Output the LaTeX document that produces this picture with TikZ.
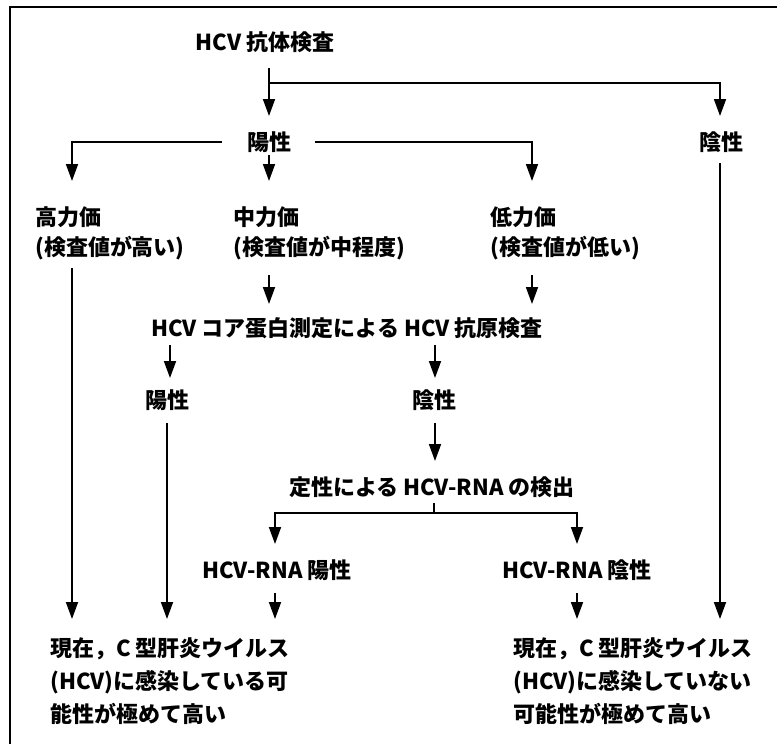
\documentclass[tikz,border=0pt]{standalone}
\usepackage{fontspec}
\newfontfamily\jp{Noto Sans CJK JP}
\usetikzlibrary{arrows.meta,calc}
\begin{document}
\begin{tikzpicture}[x=1pt,y=-1pt,
  txt/.style={font=\jp\bfseries\fontsize{22}{30}\selectfont, inner sep=0pt},
  txtm/.style={txt, align=left, anchor=west},
  txtf/.style={font=\jp\bfseries\fontsize{22}{33}\selectfont, inner sep=0pt, align=left, anchor=west},
  ln/.style={line width=1.8pt},
  arr/.style={ln, -{Triangle[width=12pt,length=17pt]}}]
\useasboundingbox (0,0) rectangle (777,744);
\draw[line width=2.5pt] (10,800) -- (10,7) -- (800,7);
% nodes
\node[txt] (t) at (265,42) {HCV 抗体検査};
\node[txt] (p1) at (269,142) {陽性};
\node[txt] (n1) at (721,142) {陰性};
\node[txtm] (high) at (35,233) {高力価\\(検査値が高い)};
\node[txtm] (mid) at (233,233) {中力価\\(検査値が中程度)};
\node[txtm] (low) at (490,233) {低力価\\(検査値が低い)};
\node[txt] (core) at (347,328) {HCV コア蛋白測定による HCV 抗原検査};
\node[txt] (cp) at (167,400) {陽性};
\node[txt] (cn) at (434,400) {陰性};
\node[txt] (qual) at (432,487) {定性による HCV-RNA の検出};
\node[txt] (rp) at (277,570) {HCV-RNA 陽性};
\node[txt] (rn) at (577,570) {HCV-RNA 陰性};
\node[txtf] (fin1) at (50,681) {現在，C 型肝炎ウイルス\\(HCV)に感染している可\\能性が極めて高い};
\node[txtf] (fin2) at (513,681) {現在，C 型肝炎ウイルス\\(HCV)に感染していない\\可能性が極めて高い};
% connectors
\draw[arr] ($(t)+(4,26)$) -- ($(p1)+(0,-26)$);
\draw[arr] ($(t)+(4,41)$) -| ($(n1)+(-1,-26)$);
\draw[arr] ($(p1)+(-47,0)$) -| ($(high.west)+(37,-52)$);
\draw[arr] ($(p1)+(0,13)$) -- ($(mid.west)+(36,-52)$);
\draw[arr] ($(p1)+(46,0)$) -| ($(low.west)+(42,-52)$);
\draw[arr] ($(n1)+(-1,21)$) -- ($(fin2.west)+(207,-62)$);
\draw[arr] ($(high.west)+(37,35)$) -- ($(fin1.west)+(22,-62)$);
\draw[arr] ($(mid.west)+(36,42)$) -- ($(core)+(-78,-24)$);
\draw[arr] ($(low.west)+(42,42)$) -- ($(core)+(185,-24)$);
\draw[arr] ($(core)+(-177,17)$) -- ($(cp)+(3,-22)$);
\draw[arr] ($(core)+(88,17)$) -- ($(cn)+(1,-22)$);
\draw[arr] ($(cp)+(0,23)$) -- ($(fin1.west)+(117,-62)$);
\draw[arr] ($(cn)+(1,23)$) -- ($(qual)+(3,-26)$);
\draw[ln] ($(qual)+(2,16)$) -- ($(qual)+(2,26)$);
\draw[arr] ($(qual)+(2,26)$) -| ($(rp)+(-2,-26)$);
\draw[arr] ($(qual)+(2,26)$) -| ($(rn)+(0,-26)$);
\draw[arr] ($(rp)+(-2,23)$) -- ($(fin1.west)+(225,-62)$);
\draw[arr] ($(rn)+(0,23)$) -- ($(fin2.west)+(64,-62)$);
\end{tikzpicture}
\end{document}
